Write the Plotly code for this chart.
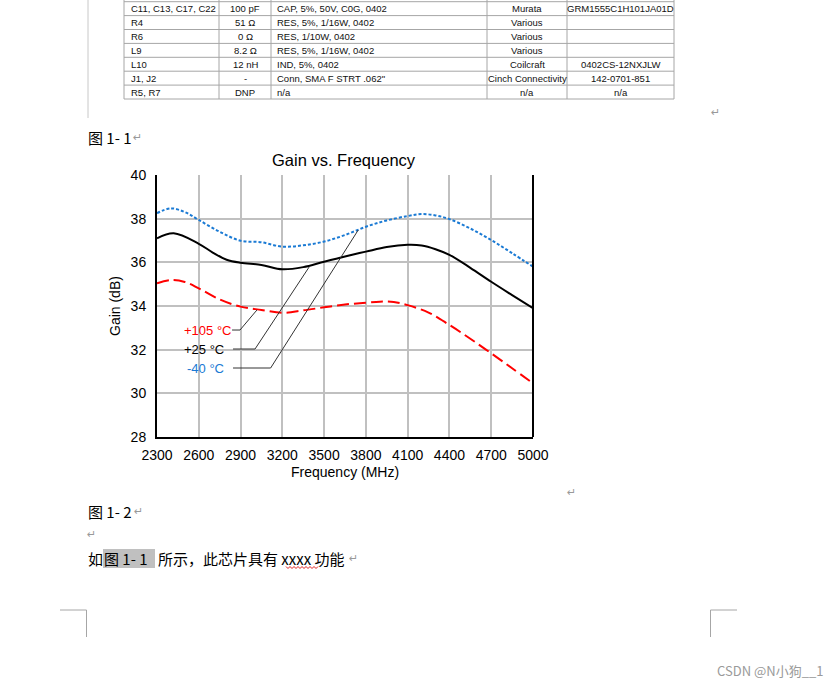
import plotly.graph_objects as go

W, H = 840, 688

# ---------------- data ----------------
freq_m40 = [2300, 2400, 2500, 2600, 2750, 2900, 3050, 3200, 3350, 3500, 3650, 3800,
            3950, 4100, 4200, 4300, 4400, 4550, 4700, 4850, 5000]
gain_m40 = [38.25, 38.47, 38.30, 37.94, 37.40, 36.99, 36.92, 36.72, 36.78, 36.95, 37.25, 37.63,
            37.92, 38.12, 38.21, 38.15, 37.98, 37.55, 37.02, 36.42, 35.80]

freq_25 = [2300, 2420, 2600, 2700, 2800, 2900, 3050, 3200, 3350, 3500, 3650, 3800,
           3950, 4100, 4200, 4300, 4400, 4550, 4700, 4850, 5000]
gain_25 = [37.10, 37.33, 36.85, 36.45, 36.12, 35.98, 35.88, 35.68, 35.78, 36.03, 36.27, 36.49,
           36.70, 36.80, 36.77, 36.60, 36.34, 35.75, 35.11, 34.50, 33.90]

freq_105 = [2300, 2400, 2500, 2600, 2750, 2900, 3050, 3200, 3350, 3500, 3650, 3800,
            3900, 4000, 4100, 4250, 4400, 4550, 4700, 4850, 5000]
gain_105 = [35.04, 35.19, 35.10, 34.81, 34.30, 33.97, 33.82, 33.69, 33.80, 33.94, 34.07, 34.15,
            34.20, 34.18, 34.04, 33.70, 33.13, 32.50, 31.83, 31.15, 30.46]

x_ticks = [2300, 2600, 2900, 3200, 3500, 3800, 4100, 4400, 4700, 5000]
y_ticks = [28, 30, 32, 34, 36, 38, 40]

series_labels = ["+105 °C", "+25 °C", "-40 °C"]
# leader lines: (label end freq, label gain, elbow freq, curve freq, curve gain)
leaders = [
    (2839, 32.90, 2896, 3018, 33.82),
    (2846, 32.03, 3004, 3394, 35.80),
    (2846, 31.16, 3116, 3745, 37.48),
]
label_right = [2831, 2781, 2781]

table_rows = [
    ["C11, C13, C17, C22", "100 pF", "CAP, 5%, 50V, C0G, 0402", "Murata", "GRM1555C1H101JA01D"],
    ["R4", "51 Ω", "RES, 5%, 1/16W, 0402", "Various", ""],
    ["R6", "0 Ω", "RES, 1/10W, 0402", "Various", ""],
    ["L9", "8.2 Ω", "RES, 5%, 1/16W, 0402", "Various", ""],
    ["L10", "12 nH", "IND, 5%, 0402", "Coilcraft", "0402CS-12NXJLW"],
    ["J1, J2", "-", "Conn, SMA F STRT .062\"", "Cinch Connectivity", "142-0701-851"],
    ["R5, R7", "DNP", "n/a", "n/a", "n/a"],
]

caption_1 = "图 1- 1"
caption_2 = "图 1- 2"
body_pre = "如"
body_ref = "图 1- 1"
body_post = "所示，此芯片具有 xxxx 功能"
watermark = "CSDN @N小狗__1"

# ---------------- helpers ----------------
def PX(x):
    return x / W

def PY(y):
    return 1 - y / H

CHART_FONT = "Liberation Sans, Arial, sans-serif"
CJK_FONT = "Noto Sans CJK SC, sans-serif"
GRAY = "#a6a6a6"

fig = go.Figure()

fig.add_trace(go.Scatter(x=freq_m40, y=gain_m40, mode="lines", line_shape="spline",
                         line=dict(color="#1a7ad4", width=2, dash="3px,2px"), name=series_labels[2]))
fig.add_trace(go.Scatter(x=freq_25, y=gain_25, mode="lines", line_shape="spline",
                         line=dict(color="#000000", width=2), name=series_labels[1]))
fig.add_trace(go.Scatter(x=freq_105, y=gain_105, mode="lines", line_shape="spline",
                         line=dict(color="#ff0000", width=2, dash="12px,5px"), name=series_labels[0]))

# leader lines (data coordinates)
for (fx0, gy0, fx1, fx2, gy2) in leaders:
    fig.add_trace(go.Scatter(x=[fx0, fx1, fx2], y=[gy0, gy0, gy2], mode="lines",
                             line=dict(color="#333333", width=1), hoverinfo="skip",
                             showlegend=False))

shapes = []
annotations = []

# series labels
label_colors = ["#ff0000", "#000000", "#1a7ad4"]
for lab, col, lx, (fx0, gy0, _, _, _) in zip(series_labels, label_colors, label_right, leaders):
    annotations.append(dict(x=lx, y=gy0, xref="x", yref="y", text=lab, showarrow=False,
                            xanchor="right", yanchor="middle", xshift=2,
                            font=dict(family=CHART_FONT, size=13, color=col)))

# chart texts
annotations.append(dict(x=PX(344), y=PY(160), xref="paper", yref="paper", text="Gain vs. Frequency",
                        showarrow=False, xanchor="center", yanchor="middle",
                        font=dict(family=CHART_FONT, size=16.5, color="#000")))
annotations.append(dict(x=PX(345), y=PY(472), xref="paper", yref="paper", text="Frequency (MHz)",
                        showarrow=False, xanchor="center", yanchor="middle",
                        font=dict(family=CHART_FONT, size=14, color="#000")))
annotations.append(dict(x=PX(115), y=PY(306), xref="paper", yref="paper", text="Gain (dB)",
                        showarrow=False, xanchor="center", yanchor="middle", textangle=-90,
                        font=dict(family=CHART_FONT, size=14, color="#000")))

# right border of plot
shapes.append(dict(type="line", xref="paper", yref="paper", x0=PX(533), x1=PX(533),
                   y0=PY(175), y1=PY(437), line=dict(color="#000", width=2)))

# ---------------- document table ----------------
col_x = [124, 219, 271, 487, 567, 674]
row_top = 1.7
row_h = 13.9
n_rows = len(table_rows)
for k in range(n_rows + 1):
    y = row_top + k * row_h
    shapes.append(dict(type="line", xref="paper", yref="paper", x0=PX(col_x[0]), x1=PX(col_x[-1]),
                       y0=PY(y), y1=PY(y), line=dict(color=GRAY, width=1)))
for x in col_x:
    shapes.append(dict(type="line", xref="paper", yref="paper", x0=PX(x), x1=PX(x),
                       y0=PY(0), y1=PY(row_top + n_rows * row_h), line=dict(color=GRAY, width=1)))
for i, row in enumerate(table_rows):
    yc = row_top + (i + 0.5) * row_h
    specs = [(col_x[0] + 5, "left"), ((col_x[1] + col_x[2]) / 2, "center"), (col_x[2] + 4, "left"),
             ((col_x[3] + col_x[4]) / 2, "center"), ((col_x[4] + col_x[5]) / 2, "center")]
    for txt, (xx, anc) in zip(row, specs):
        if txt:
            annotations.append(dict(x=PX(xx), y=PY(yc), xref="paper", yref="paper", text=txt,
                                    showarrow=False, xanchor=anc, yanchor="middle",
                                    font=dict(family=CHART_FONT, size=9.5, color="#111")))

# page margin line near table
shapes.append(dict(type="line", xref="paper", yref="paper", x0=PX(88), x1=PX(88), y0=PY(0), y1=PY(118),
                   line=dict(color="#c8c8c8", width=1)))

# corner marks
shapes.append(dict(type="path", xref="paper", yref="paper",
                   path=f"M {PX(60)} {PY(610)} L {PX(86.5)} {PY(610)} L {PX(86.5)} {PY(637)}",
                   line=dict(color=GRAY, width=1)))
shapes.append(dict(type="path", xref="paper", yref="paper",
                   path=f"M {PX(737)} {PY(610)} L {PX(710.5)} {PY(610)} L {PX(710.5)} {PY(637)}",
                   line=dict(color=GRAY, width=1)))

# highlight behind reference
shapes.append(dict(type="rect", xref="paper", yref="paper", x0=PX(103), x1=PX(155), y0=PY(568), y1=PY(549),
                   fillcolor="#c0c0c0", line=dict(width=0), layer="below"))

# wavy underline
pts = []
xw = 286.0
up = True
while xw <= 318:
    pts.append((xw, 566.5 if up else 568.5))
    up = not up
    xw += 2.0
path = "M " + " L ".join(f"{PX(a)} {PY(b)}" for a, b in pts)
shapes.append(dict(type="path", xref="paper", yref="paper", path=path, line=dict(color="#e02020", width=1)))

# document texts
def doc_text(x, y, txt, size=15, color="#000", font=CJK_FONT, anchor="left"):
    annotations.append(dict(x=PX(x), y=PY(y), xref="paper", yref="paper", text=txt, showarrow=False,
                            xanchor=anchor, yanchor="middle", font=dict(family=font, size=size, color=color)))

RET = "↵"
doc_text(86, 137, caption_1, size=15)
doc_text(131, 137, RET, size=11, color="#999", font="DejaVu Sans")
doc_text(709, 113, RET, size=11, color="#999", font="DejaVu Sans")
doc_text(565, 492, RET, size=11, color="#999", font="DejaVu Sans")
doc_text(86, 511, caption_2, size=15)
doc_text(132, 511, RET, size=11, color="#999", font="DejaVu Sans")
doc_text(85, 534, RET, size=11, color="#999", font="DejaVu Sans")
doc_text(86, 558, body_pre, size=15)
doc_text(102, 558, body_ref, size=15)
doc_text(156, 558, body_post, size=15)
doc_text(347, 558, RET, size=11, color="#999", font="DejaVu Sans")
doc_text(825, 670, watermark, size=13, color="#9a9a9a", font=CJK_FONT, anchor="right")

fig.update_layout(
    width=W, height=H,
    margin=dict(l=0, r=0, t=0, b=0, pad=0),
    paper_bgcolor="#ffffff", plot_bgcolor="#ffffff",
    showlegend=False,
    shapes=shapes, annotations=annotations,
    xaxis=dict(domain=[PX(157), PX(533)], range=[2300, 5000], tickvals=x_ticks,
               showgrid=True, gridcolor="#c0c0c0", gridwidth=2, automargin=False,
               showline=True, linecolor="#000", linewidth=2, zeroline=False, ticks="",
               ticklabelstandoff=4,
               tickfont=dict(family=CHART_FONT, size=14, color="#000")),
    yaxis=dict(domain=[PY(437), PY(175)], range=[28, 40], tickvals=y_ticks,
               showgrid=True, gridcolor="#c0c0c0", gridwidth=2, automargin=False,
               showline=True, linecolor="#000", linewidth=2, zeroline=False, ticks="",
               ticklabelstandoff=6,
               tickfont=dict(family=CHART_FONT, size=14, color="#000")),
)

fig.write_html("out.html", config={"displayModeBar": False},
               post_script="document.body.style.margin='0';document.body.style.overflow='hidden';")
